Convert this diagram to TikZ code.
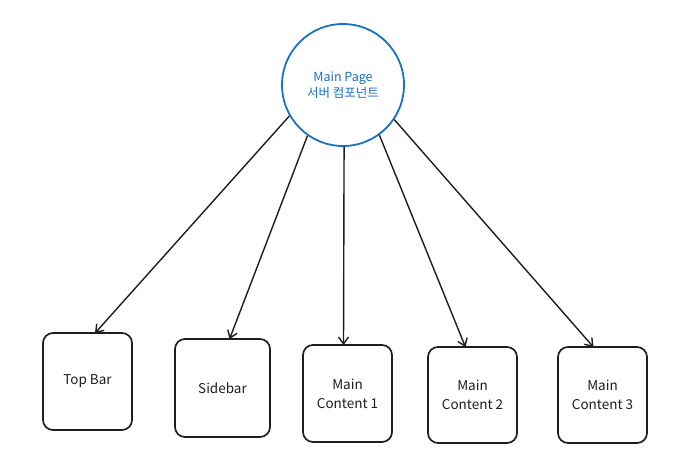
\documentclass[tikz,border=0pt]{standalone}
\usepackage{fontspec}
\setmainfont{Noto Sans CJK KR}
\usetikzlibrary{arrows.meta,calc}
\definecolor{exblue}{HTML}{1971C2}
\definecolor{exink}{HTML}{1E1E1E}
\tikzset{
  hub/.style={circle, draw=exblue, line width=1.8pt, minimum size=122pt, inner sep=0pt,
    text=exblue, align=center, font=\fontsize{12.5}{15.5}\selectfont},
  comp/.style={draw=exink, line width=1.7pt, rounded corners=10pt, minimum width=89pt,
    minimum height=97pt, align=center, text=exink, font=\fontsize{13.5}{19}\selectfont},
  link/.style={draw=exink, line width=1.4pt, -{Straight Barb[length=7pt,width=10pt,line width=1.4pt]}}
}
\begin{document}
\begin{tikzpicture}[x=1pt,y=-1pt]
\useasboundingbox[fill=white] (0,0) rectangle (700,470);
\node[hub] (main) at (343,85) {Main Page\\서버 컴포넌트};
\node[comp] (tb) at (87.5,381.5) {Top Bar};
\node[comp, minimum width=95pt, minimum height=98pt] (sb) at (222.5,388) {Sidebar};
\node[comp] (mc1) at (347.5,393.5) {Main\\Content 1};
\node[comp, minimum height=96pt] (mc2) at (472.5,395) {Main\\Content 2};
\node[comp, minimum height=96pt] (mc3) at (602.5,395) {Main\\Content 3};
\draw[link] (main.210) -- ($(tb.north)+(7.5,1)$);
\draw[link] (main.235) -- ($(sb.north)+(7,1)$);
\draw[link] (main.271) -- ($(mc1.north)+(-4,1)$);
\draw[link] (main.306) -- ($(mc2.north)+(-7,1)$);
\draw[link] (main.326) -- ($(mc3.north)+(-9,1)$);
\end{tikzpicture}
\end{document}
